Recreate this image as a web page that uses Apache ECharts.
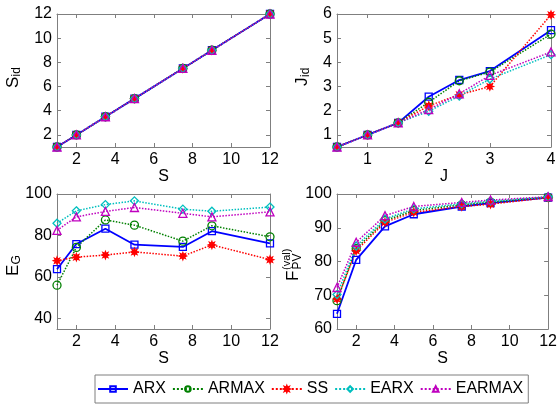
<!DOCTYPE html>
<html>
<head>
<meta charset="utf-8">
<script src="https://cdn.jsdelivr.net/npm/echarts@6/dist/echarts.min.js"></script>
<style>
  html, body { margin: 0; padding: 0; background: #fff; }
  #chart { width: 560px; height: 405px; }
</style>
</head>
<body>
<div id="chart"></div>
<script>
  // 方法名
  var methods = ['ARX', 'ARMAX', 'SS', 'EARX', 'EARMAX'];

  // 横轴取值
  var sVals = [1, 2, 3.5, 5, 7.5, 9, 12];
  var jVals = [0.5, 1, 1.5, 2, 2.5, 3, 4];

  // S_id
  var sidARX    = [1, 2, 3.5, 5, 7.5, 9, 12];
  var sidARMAX  = [1, 2, 3.5, 5, 7.5, 9, 12];
  var sidSS     = [1, 2, 3.5, 5, 7.5, 9, 12];
  var sidEARX   = [1, 2, 3.5, 5, 7.5, 9, 12];
  var sidEARMAX = [1, 2, 3.5, 5, 7.5, 9, 12];

  // J_id
  var jidARX    = [0.5, 1, 1.5, 2.58, 3.27, 3.64, 5.33];
  var jidARMAX  = [0.5, 1, 1.5, 2.35, 3.24, 3.6, 5.17];
  var jidSS     = [0.5, 1, 1.5, 2.2, 2.66, 3.0, 5.97];
  var jidEARX   = [0.5, 1, 1.5, 1.98, 2.61, 3.31, 4.32];
  var jidEARMAX = [0.5, 1, 1.5, 2.05, 2.7, 3.46, 4.43];

  // E_G
  var egARX    = [63.8, 75.9, 83.3, 75.6, 74.5, 82.1, 76.2];
  var egARMAX  = [56.1, 74.3, 87.5, 85.0, 77.3, 84.7, 79.4];
  var egSS     = [67.9, 69.6, 70.6, 72.1, 70.1, 75.5, 68.4];
  var egEARX   = [85.9, 91.9, 94.9, 96.7, 92.7, 91.7, 93.7];
  var egEARMAX = [82.5, 89.0, 91.6, 93.5, 90.7, 89.0, 91.4];

  // F_PV^(val)
  var fARX    = [64.5, 80.5, 90.4, 94.0, 96.3, 97.3, 98.9];
  var fARMAX  = [68.4, 83.8, 92.1, 95.1, 96.8, 97.6, 99.0];
  var fSS     = [68.9, 83.2, 91.6, 94.6, 96.3, 97.0, 98.9];
  var fEARX   = [70.2, 84.6, 92.6, 95.6, 97.1, 97.9, 99.1];
  var fEARMAX = [72.3, 85.7, 93.6, 96.3, 97.5, 98.2, 99.2];

  // 刻度
  var sTicks   = [2, 4, 6, 8, 10, 12];
  var jTicks   = [1, 2, 3, 4];
  var sidTicks = [2, 4, 6, 8, 10, 12];
  var jidTicks = [1, 2, 3, 4, 5, 6];
  var egTicks  = [40, 60, 80, 100];
  var fTicks   = [60, 70, 80, 90, 100];

  var FONT = 'Liberation Sans';
  var AXIS_COLOR = '#7f7f7f';

  // 线型/标记
  function starPath() {
    var pts = [];
    for (var i = 0; i < 16; i++) {
      var a = Math.PI * i / 8;
      var r = (i % 2 === 0) ? 5 : 2.6;
      pts.push((r * Math.sin(a)).toFixed(2) + ',' + (-r * Math.cos(a)).toFixed(2));
    }
    return 'path://M' + pts.join(' L') + ' Z';
  }
  var styles = {
    ARX:    { color: '#0000ff', type: 'solid',  width: 1.8, symbol: 'rect',     size: 7, fill: 'rgba(255,255,255,0)' },
    ARMAX:  { color: '#008000', type: 'dotted', width: 1.5, symbol: 'circle',   size: 8, fill: 'rgba(255,255,255,0)' },
    SS:     { color: '#ff0000', type: 'dotted', width: 1.5, symbol: starPath(), size: 7, fill: '#ff0000' },
    EARX:   { color: '#00bfbf', type: 'dotted', width: 1.5, symbol: 'diamond',  size: 8, fill: 'rgba(255,255,255,0)' },
    EARMAX: { color: '#bf00bf', type: 'dotted', width: 1.5, symbol: 'triangle', size: 8, fill: 'rgba(255,255,255,0)' }
  };

  var grids = [
    { left: 57,  top: 14,  width: 213, height: 133 },
    { left: 337, top: 14,  width: 214, height: 133 },
    { left: 57,  top: 194, width: 213, height: 135 },
    { left: 337, top: 194, width: 213, height: 135 }
  ];

  var xAxes = [];
  var yAxes = [];

  function addAxes(gi, xMin, xMax, xTicks, xName, xGap, yMin, yMax, yTicks) {
    ['bottom', 'top'].forEach(function (pos) {
      xAxes.push({
        gridIndex: gi, type: 'value', min: xMin, max: xMax, position: pos,
        axisLine: { show: true, onZero: false, lineStyle: { color: AXIS_COLOR, width: 1 } },
        axisTick: { show: true, inside: true, length: 4, customValues: xTicks, lineStyle: { color: AXIS_COLOR } },
        axisLabel: { show: pos === 'bottom', customValues: xTicks, color: '#000', fontSize: 16, fontFamily: FONT, margin: 5 },
        splitLine: { show: false },
        name: pos === 'bottom' ? xName : '',
        nameLocation: 'middle', nameGap: xGap,
        nameTextStyle: { color: '#000', fontSize: 16, fontFamily: FONT }
      });
    });
    ['left', 'right'].forEach(function (pos) {
      yAxes.push({
        gridIndex: gi, type: 'value', min: yMin, max: yMax, position: pos,
        axisLine: { show: true, onZero: false, lineStyle: { color: AXIS_COLOR, width: 1 } },
        axisTick: { show: true, inside: true, length: 4, customValues: yTicks, lineStyle: { color: AXIS_COLOR } },
        axisLabel: { show: pos === 'left', customValues: yTicks, color: '#000', fontSize: 16, fontFamily: FONT, margin: 5 },
        splitLine: { show: false }
      });
    });
  }

  addAxes(0, 1, 12, sTicks, 'S', 21, 1, 12, sidTicks);
  addAxes(1, 0.5, 4, jTicks, 'J', 21, 0.5, 6, jidTicks);
  addAxes(2, 1, 12, sTicks, 'S', 19, 35, 100, egTicks);
  addAxes(3, 1, 12, sTicks, 'S', 19, 60, 100, fTicks);

  var panels = [
    { x: sVals, ys: [sidARX, sidARMAX, sidSS, sidEARX, sidEARMAX] },
    { x: jVals, ys: [jidARX, jidARMAX, jidSS, jidEARX, jidEARMAX] },
    { x: sVals, ys: [egARX, egARMAX, egSS, egEARX, egEARMAX] },
    { x: sVals, ys: [fARX, fARMAX, fSS, fEARX, fEARMAX] }
  ];

  var series = [];
  panels.forEach(function (p, gi) {
    methods.forEach(function (m, k) {
      var st = styles[m];
      series.push({
        name: m,
        type: 'line',
        xAxisIndex: gi * 2,
        yAxisIndex: gi * 2,
        data: p.x.map(function (v, i) { return [v, p.ys[k][i]]; }),
        symbol: st.symbol,
        symbolSize: st.size,
        showAllSymbol: true,
        clip: false,
        lineStyle: { color: st.color, width: st.width, type: st.type },
        itemStyle: { color: st.fill, borderColor: st.color, borderWidth: 1.3 },
        emphasis: { disabled: true }
      });
    });
  });

  // 纵轴标题（旋转文字，带上下标）
  function txt(t, x, y, size) {
    return {
      type: 'text', x: x, y: y,
      style: { text: t, fill: '#000', fontSize: size, fontFamily: FONT, textAlign: 'left', textVerticalAlign: 'middle' }
    };
  }
  function yLabel(cx, cy, children) {
    return { type: 'group', x: cx, y: cy, rotation: Math.PI / 2, children: children };
  }

  var graphics = [
    yLabel(13, 78, [txt('S', -10, 0, 17), txt('id', 1.5, 4, 12)]),
    yLabel(302, 77, [txt('J', -9, 0, 17), txt('id', 0, 4, 12)]),
    yLabel(13, 265, [txt('E', -11, 0, 17), txt('G', 0.5, 4, 12)]),
    yLabel(293, 263, [txt('F', -18, 0, 17), txt('(val)', -7, -6, 11), txt('PV', -6.5, 5, 12)])
  ];

  var chart = echarts.init(document.getElementById('chart'));
  chart.setOption({
    animation: false,
    backgroundColor: '#fff',
    grid: grids,
    xAxis: xAxes,
    yAxis: yAxes,
    series: series,
    graphic: graphics,
    legend: {
      data: methods,
      left: 95,
      top: 375,
      orient: 'horizontal',
      itemWidth: 30,
      itemHeight: 7,
      itemGap: 6,
      padding: [6, 5, 6, 2],
      borderColor: '#7f7f7f',
      borderWidth: 1,
      backgroundColor: '#fff',
      textStyle: { color: '#000', fontSize: 16, fontFamily: FONT },
      selectedMode: false
    }
  });
</script>
</body>
</html>
